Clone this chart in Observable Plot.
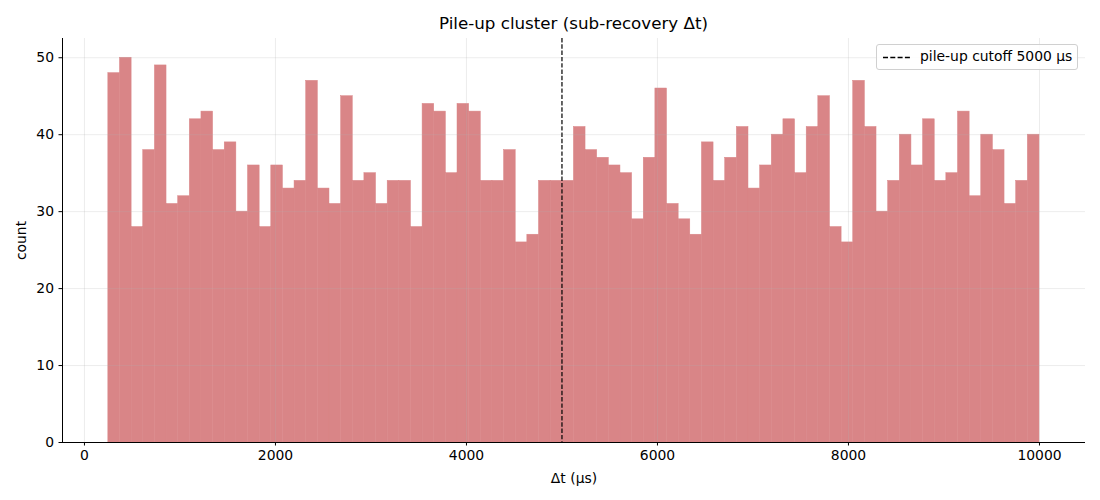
<!DOCTYPE html>
<html>
<head>
<meta charset="utf-8">
<script src="https://cdn.jsdelivr.net/npm/d3@7"></script>
<script src="https://cdn.jsdelivr.net/npm/@observablehq/plot@0.6"></script>
<style>
  body { margin: 0; background: #fff; font-family: "DejaVu Sans", sans-serif; }
  #wrap { position: relative; width: 1100px; height: 500px; }
  #title { position: absolute; left: 62px; width: 1023px; top: 13px; text-align: center; font-size: 16.7px; color: #000; }
  #legend { position: absolute; left: 876px; top: 44px; width: 200px; height: 24px; border: 1px solid #d0d0d0; border-radius: 3px; background: rgba(255,255,255,0.85); font-size: 13.9px; }
  #legend svg { position: absolute; left: 5px; top: 11px; }
  #legend span { position: absolute; left: 43px; top: 3px; white-space: nowrap; }
</style>
</head>
<body>
<div id="wrap">
  <div id="chart"></div>
  <div id="title">Pile-up cluster (sub-recovery Δt)</div>
  <div id="legend"><svg width="30" height="3"><line x1="1" y1="1.5" x2="29" y2="1.5" stroke="#000" stroke-width="1.3" stroke-dasharray="5,2.3"/></svg><span>pile-up cutoff 5000 µs</span></div>
</div>
<script>
// Histogram data
const binStart = 250;
const binEnd = 10000;
const counts = [48,50,28,38,49,31,32,42,43,38,39,30,36,28,36,33,34,47,33,31,
                45,34,35,31,34,34,28,44,43,35,44,43,34,34,38,26,27,34,34,34,
                41,38,37,36,35,29,37,46,31,29,27,39,34,37,41,33,36,40,42,35,
                41,45,28,26,47,41,30,34,40,36,42,34,35,43,32,40,38,31,34,40];
const cutoff = [5000];
const xTicks = [0, 2000, 4000, 6000, 8000, 10000];
const yTicks = [0, 10, 20, 30, 40, 50];
const xDomain = [-230, 10482];
const yDomain = [0, 52.5];

const binWidth = (binEnd - binStart) / counts.length;
const bins = counts.map((c, i) => ({x1: binStart + i * binWidth, x2: binStart + (i + 1) * binWidth, count: c}));

const barColor = "#d98587";
const gridStroke = "#b0b0b0";
const chart = Plot.plot({
  width: 1100,
  height: 500,
  marginLeft: 62,
  marginRight: 15,
  marginTop: 38,
  marginBottom: 58,
  style: {fontFamily: "DejaVu Sans, sans-serif", fontSize: "13.9px", color: "#000", background: "#fff"},
  x: {domain: xDomain, ticks: xTicks, tickFormat: "d"},
  y: {domain: yDomain, ticks: yTicks, tickFormat: "d"},
  marks: [
    Plot.rectY(bins, {x1: "x1", x2: "x2", y: "count", fill: barColor, stroke: barColor, strokeWidth: 0.5, insetLeft: 0, insetRight: 0}),
    Plot.gridX(xTicks, {stroke: gridStroke, strokeOpacity: 0.3, strokeWidth: 0.8}),
    Plot.gridY(yTicks, {stroke: gridStroke, strokeOpacity: 0.3, strokeWidth: 0.8}),
    Plot.ruleX(cutoff, {stroke: "#000", strokeWidth: 1.2, strokeDasharray: "4.4,1.9"}),
    Plot.ruleY([yDomain[0]], {stroke: "#000", strokeWidth: 1}),
    Plot.ruleX([xDomain[0]], {stroke: "#000", strokeWidth: 1}),
    Plot.axisX({ticks: xTicks, tickFormat: "d", tickSize: 3.5, tickPadding: 4, label: "Δt (µs)", labelAnchor: "center", labelOffset: 40, labelArrow: "none", fill: "#000"}),
    Plot.axisY({ticks: yTicks, tickFormat: "d", tickSize: 3.5, tickPadding: 5, label: "count", labelAnchor: "center", labelOffset: 46, labelArrow: "none", fill: "#000"})
  ]
});
document.getElementById("chart").appendChild(chart);
</script>
</body>
</html>
